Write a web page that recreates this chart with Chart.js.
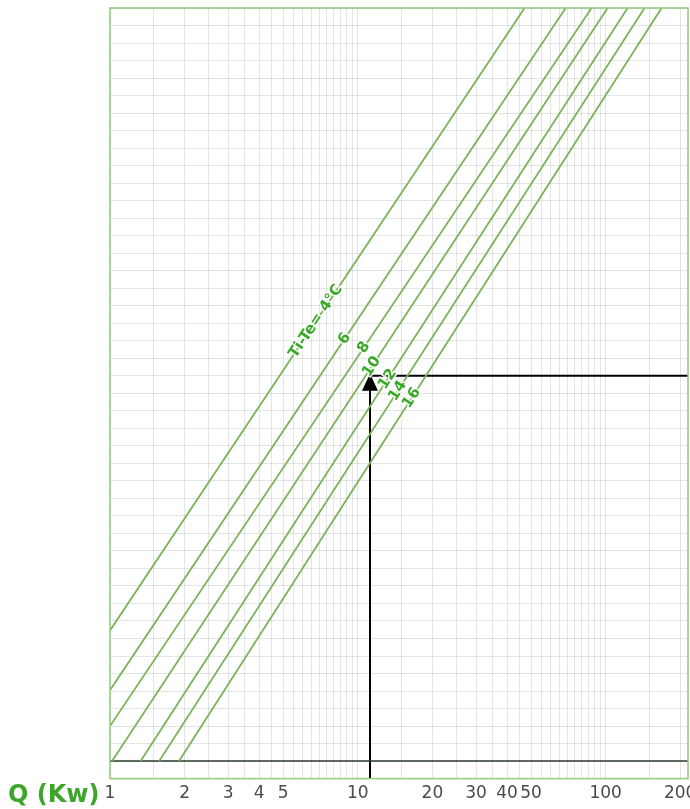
<!DOCTYPE html>
<html>
<head>
<meta charset="utf-8">
<script src="https://cdn.jsdelivr.net/npm/chart.js@4/dist/chart.umd.min.js"></script>
<style>
  html, body { margin: 0; padding: 0; background: #fff; }
  #wrap { width: 690px; height: 809px; }
</style>
</head>
<body>
<div id="wrap"><canvas id="chart" width="690" height="809"></canvas></div>
<script>
// Curvas Ti-Te: extremos de cada recta (Q en kW, eje vertical sin escala)
const deltaT = [4, 6, 8, 10, 12, 14, 16];
const qStart = [1, 1, 1, 1.02, 1.33, 1.58, 1.90];
const yStart = [7.46, 4.05, 2.0, 0, 0, 0, 0];
const qEnd = [47.1, 69.0, 87.8, 101.9, 122.7, 143.6, 168.2];
const yEnd = [43, 43, 43, 43, 43, 43, 43];

// Etiquetas sobre las rectas
const curveLabels = ['Ti-Te= 4°C', '6', '8', '10', '12', '14', '16'];
const labelQ = [6.77, 8.86, 10.58, 11.38, 13.2, 14.5, 16.5];

// Punto de lectura (flecha)
const readQ = 11.2;
const readY = 22;

// Ejes
const qMin = 1, qMax = 215;
const yMin = -1, yMax = 43;
const gridQ = [1, 1.5, 2, 2.5, 3, 3.5, 4, 4.5, 5, 5.5, 6, 6.5, 7, 7.5, 8, 8.5, 9, 9.5,
  10, 15, 20, 25, 30, 35, 40, 45, 50, 55, 60, 65, 70, 75, 80, 85, 90, 95, 100, 150, 200];
const tickLabelsQ = [1, 2, 3, 4, 5, 10, 20, 30, 40, 50, 100, 200];

const green = '#7ab35a';
const textGreen = '#3aa827';

const datasets = deltaT.map((t, i) => ({
  label: 'Ti-Te ' + t,
  data: [{ x: qStart[i], y: yStart[i] }, { x: qEnd[i], y: yEnd[i] }],
  borderColor: green,
  borderWidth: 1.8,
  pointRadius: 0,
  showLine: true,
}));

// linea base
datasets.push({
  label: 'base',
  data: [{ x: qMin, y: 0 }, { x: qMax, y: 0 }],
  borderColor: '#2e3a2e',
  borderWidth: 1.5,
  pointRadius: 0,
  showLine: true,
});

// flecha de lectura
datasets.push({
  label: 'lectura',
  data: [{ x: readQ, y: yMin }, { x: readQ, y: readY }, { x: qMax, y: readY }],
  borderColor: '#000',
  borderWidth: 2,
  pointRadius: 0,
  showLine: true,
});

const overlay = {
  id: 'overlay',
  afterDatasetsDraw(chart) {
    const { ctx, chartArea, scales } = chart;
    const xs = scales.x, ys = scales.y;

    // marco
    ctx.save();
    ctx.strokeStyle = '#93c977';
    ctx.lineWidth = 1.5;
    ctx.strokeRect(chartArea.left, chartArea.top, chartArea.right - chartArea.left, chartArea.bottom - chartArea.top);

    // punta de flecha
    const ax = xs.getPixelForValue(readQ);
    const ay = ys.getPixelForValue(readY);
    ctx.fillStyle = '#000';
    ctx.beginPath();
    ctx.moveTo(ax, ay - 2);
    ctx.lineTo(ax - 8, ay + 15);
    ctx.lineTo(ax + 8, ay + 15);
    ctx.closePath();
    ctx.fill();

    // etiquetas de curvas
    ctx.font = 'bold 15px "DejaVu Sans", Verdana, sans-serif';
    ctx.textAlign = 'center';
    ctx.textBaseline = 'middle';
    curveLabels.forEach((txt, i) => {
      const x0 = xs.getPixelForValue(qStart[i]), y0 = ys.getPixelForValue(yStart[i]);
      const x1 = xs.getPixelForValue(qEnd[i]), y1 = ys.getPixelForValue(yEnd[i]);
      const ang = Math.atan2(y1 - y0, x1 - x0);
      const t = (Math.log10(labelQ[i]) - Math.log10(qStart[i])) / (Math.log10(qEnd[i]) - Math.log10(qStart[i]));
      const yv = yStart[i] + t * (yEnd[i] - yStart[i]);
      const px = xs.getPixelForValue(labelQ[i]);
      const py = ys.getPixelForValue(yv);
      ctx.save();
      ctx.translate(px, py);
      ctx.rotate(ang);
      ctx.lineWidth = 3;
      ctx.strokeStyle = 'rgba(255,255,255,0.9)';
      ctx.strokeText(txt, 0, 0);
      ctx.fillStyle = textGreen;
      ctx.fillText(txt, 0, 0);
      ctx.restore();
    });

    // titulo del eje
    ctx.font = 'bold 24px "DejaVu Sans", Verdana, sans-serif';
    ctx.textAlign = 'left';
    ctx.textBaseline = 'alphabetic';
    ctx.fillStyle = '#3ca52a';
    ctx.fillText('Q (Kw)', 8, 802);
    ctx.restore();
  }
};

new Chart(document.getElementById('chart'), {
  type: 'scatter',
  data: { datasets },
  options: {
    responsive: false,
    animation: false,
    layout: { padding: { left: 110, right: 2, top: 8, bottom: 0 } },
    plugins: { legend: { display: false }, tooltip: { enabled: false } },
    scales: {
      x: {
        type: 'logarithmic',
        min: qMin,
        max: qMax,
        afterBuildTicks(axis) {
          axis.ticks = gridQ.map(v => ({ value: v }));
        },
        afterFit(axis) {
          axis.paddingLeft = 0;
          axis.paddingRight = 0;
        },
        ticks: {
          autoSkip: false,
          maxRotation: 0,
          padding: 5,
          color: '#4a4a4a',
          font: { family: '"DejaVu Sans", Verdana, sans-serif', size: 17 },
          callback: v => tickLabelsQ.includes(v) ? String(v) : '',
        },
        grid: { color: 'rgba(0,0,0,0.1)', drawTicks: false },
        border: { display: false },
      },
      y: {
        type: 'linear',
        min: yMin,
        max: yMax,
        ticks: { display: false, stepSize: 1 },
        grid: { color: 'rgba(0,0,0,0.1)', drawTicks: false },
        border: { display: false },
      },
    },
  },
  plugins: [overlay],
});
</script>
</body>
</html>
